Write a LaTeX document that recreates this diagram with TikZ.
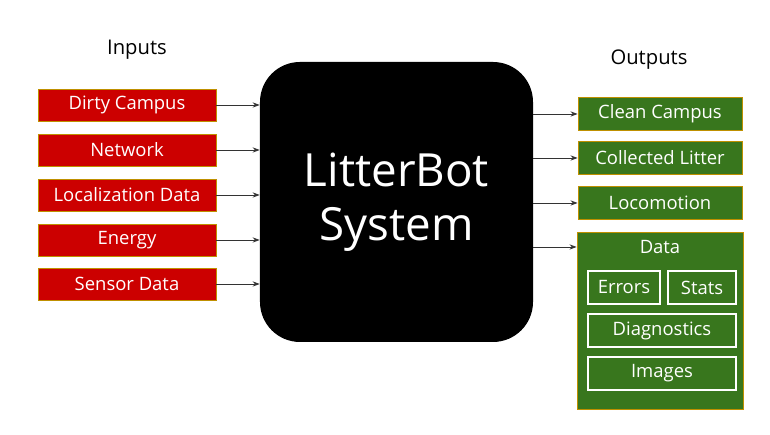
\documentclass[tikz,border=0pt]{standalone}
\usepackage{fontspec}
\setmainfont{Open Sans}
\usetikzlibrary{arrows.meta}
\definecolor{inred}{HTML}{CC0000}
\definecolor{outgreen}{HTML}{38761D}
\definecolor{boxedge}{HTML}{BF9000}

\begin{document}
\begin{tikzpicture}[
  inbox/.style={draw=boxedge, line width=0.5pt, fill=inred, text=white,
    minimum width=3.56cm, minimum height=0.64cm, font=\fontsize{10.5}{12}\selectfont},
  outbox/.style={draw=boxedge, line width=0.5pt, fill=outgreen, text=white,
    minimum width=3.28cm, minimum height=0.66cm, font=\fontsize{10.5}{12}\selectfont},
  subbox/.style={draw=white, line width=1.1pt, text=white,
    minimum height=0.66cm, font=\fontsize{10.5}{12}\selectfont},
  flow/.style={-{Stealth[length=4pt,width=3pt]}, line width=0.5pt, black!80}
]
\useasboundingbox (0,0) rectangle (15.4,8.7);

% titles
\node (intitle) at (2.74,7.7) {\fontsize{11.5}{13}\selectfont Inputs};
\node (outtitle) at (12.98,7.5) {\fontsize{11.5}{13}\selectfont Outputs};

% the system
\node (sys) [fill=black, rounded corners=0.8cm, minimum width=5.46cm, minimum height=5.6cm,
  text=white, align=center, font=\fontsize{26}{31}\selectfont] at (7.93,4.66)
  {LitterBot\\System};

% inputs
\node (dirty) [inbox] at (2.54,6.6) {Dirty Campus};
\node (net) [inbox] at (2.54,5.7) {Network};
\node (loc) [inbox] at (2.54,4.8) {Localization Data};
\node (energy) [inbox] at (2.54,3.9) {Energy};
\node (sensor) [inbox] at (2.54,3.02) {Sensor Data};

% outputs
\node (clean) [outbox] at (13.2,6.42) {Clean Campus};
\node (litter) [outbox] at (13.2,5.54) {Collected Litter};
\node (loco) [outbox] at (13.2,4.64) {Locomotion};
\node (data) [outbox, minimum width=3.32cm, minimum height=3.54cm] at (13.2,2.29) {};
\node (datalabel) [text=white, font=\fontsize{10.5}{12}\selectfont] at (13.2,3.76) {Data};
\node (errors) [subbox, minimum width=1.44cm] at (12.48,2.95) {Errors};
\node (stats) [subbox, minimum width=1.36cm] at (14.04,2.95) {Stats};
\node (diag) [subbox, minimum width=2.96cm] at (13.24,2.09) {Diagnostics};
\node (images) [subbox, minimum width=2.96cm] at (13.24,1.23) {Images};

% arrows in
\draw[flow] (dirty.east) -- (dirty.east -| sys.west);
\draw[flow] (net.east) -- (net.east -| sys.west);
\draw[flow] (loc.east) -- (loc.east -| sys.west);
\draw[flow] (energy.east) -- (energy.east -| sys.west);
\draw[flow] (sensor.east) -- (sensor.east -| sys.west);

% arrows out
\draw[flow] (sys.east |- clean.west) -- (clean.west);
\draw[flow] (sys.east |- litter.west) -- (litter.west);
\draw[flow] (sys.east |- loco.west) -- (loco.west);
\draw[flow] (sys.east |- datalabel) -- (data.west |- datalabel);

\end{tikzpicture}
\end{document}
